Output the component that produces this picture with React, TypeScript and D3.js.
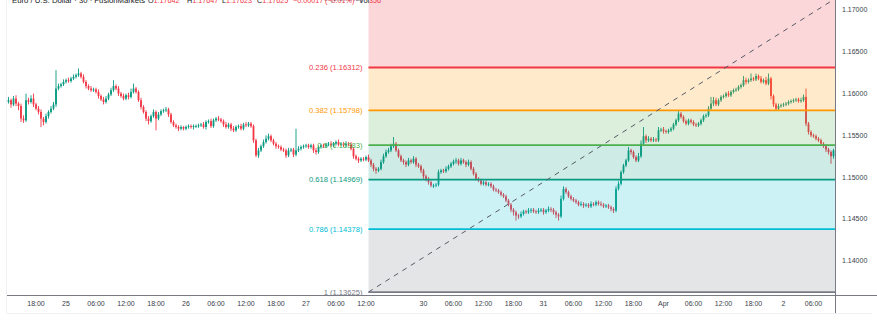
import React from "react";
import * as d3 from "d3";

const W = 877;
const H = 323;

// Candle closes in pips above 1.1400 (30-minute bars, 24 Mar 12:00 → 2 Apr 09:30)
const BASE = 1.14;
const firstOpen = 188;
const closes = [
  190,192,187,194,188,185,170,168,192,190,194,187,182,178,170,166,173,178,182,187,
  206,209,211,214,216,215,218,220,222,224,220,214,209,206,204,205,202,197,193,190,
  194,199,204,209,206,200,197,194,198,196,202,206,202,192,184,178,170,167,173,178,
  170,175,179,180,181,175,166,162,160,158,160,158,160,161,160,161,161,162,163,160,
  166,167,161,168,170,169,167,163,160,163,158,156,160,161,158,163,162,164,161,144,
  126,132,137,142,146,149,144,140,137,136,133,132,126,132,133,127,132,134,136,137,
  138,136,138,132,130,136,138,137,139,140,138,140,142,139,140,138,140,139,134,125,
  122,120,122,121,124,120,115,110,108,110,118,125,130,132,137,140,132,125,120,118,
  115,120,118,122,115,113,108,101,98,94,90,90,91,106,108,107,110,113,116,119,
  120,116,120,118,115,118,110,104,98,96,92,94,91,92,89,85,84,82,79,77,
  72,67,61,58,54,53,56,59,58,60,61,59,58,60,61,58,60,62,61,58,
  55,53,74,86,82,77,74,72,70,67,68,66,67,65,68,67,70,68,67,65,
  66,64,62,60,86,92,106,114,120,132,130,124,120,125,140,149,144,146,144,145,
  144,156,157,155,154,156,158,163,168,176,172,167,164,168,166,163,162,164,168,173,
  174,182,188,192,187,192,196,197,200,198,202,204,205,208,210,216,214,216,218,217,
  221,218,214,216,212,218,197,187,182,185,186,187,188,190,191,192,193,191,192,196,
  164,154,150,149,146,144,140,137,133,130,125,132,
];
const upWicks = [
  3,4,2,3,4,2,3,4,8,3,4,6,2,3,3,2,3,2,3,3,
  22,3,2,3,2,3,2,3,2,6,2,3,2,2,3,2,2,3,2,3,
  3,2,3,7,2,3,2,3,2,3,4,6,2,2,3,2,2,3,2,3,
  2,3,2,2,3,2,2,2,2,2,2,1,2,2,2,2,2,2,2,3,
  2,2,3,2,2,3,2,2,3,2,2,3,2,2,3,2,3,2,2,2,
  2,3,2,3,4,3,2,2,2,2,2,2,2,3,2,2,26,3,2,2,
  2,2,2,2,3,2,2,2,2,2,3,2,2,3,2,2,3,2,3,2,
  2,2,2,2,2,3,2,2,2,2,3,3,3,3,3,8,2,2,2,2,
  2,3,2,3,2,2,2,2,2,2,2,2,2,3,2,2,3,2,2,2,
  3,2,3,2,2,3,2,2,2,2,2,2,2,2,2,2,2,2,2,2,
  2,2,2,2,2,2,3,2,2,3,2,2,2,3,2,2,2,3,2,2,
  2,2,4,3,2,2,2,2,2,2,3,2,2,2,3,2,2,2,3,2,
  2,2,2,2,3,3,2,2,2,4,2,2,2,4,4,11,2,3,2,3,
  2,4,2,3,2,2,2,2,2,3,2,2,2,2,2,2,2,2,2,2,
  2,3,8,4,3,2,2,2,2,3,2,2,2,2,2,5,3,2,6,2,
  3,2,3,2,4,6,2,2,2,3,2,2,2,2,2,2,2,2,3,3,
  10,2,2,2,2,2,2,2,2,2,2,2,
];
const downWicks = [
  3,2,4,2,3,5,4,3,2,3,2,3,2,3,10,4,2,3,2,2,
  3,2,2,2,2,2,2,2,2,2,2,2,3,2,2,2,2,3,2,3,
  2,2,2,2,2,3,2,2,2,3,2,2,2,2,3,2,3,4,2,2,
  14,2,2,2,2,3,2,2,2,3,2,2,2,2,2,3,2,2,2,2,
  3,2,2,2,2,2,2,3,2,2,3,2,2,2,2,2,2,2,2,3,
  2,3,2,2,2,2,2,2,3,2,2,2,3,2,2,3,2,2,2,2,
  2,2,2,3,3,2,2,2,2,2,2,2,2,2,2,2,2,2,2,3,
  2,3,2,2,2,2,3,3,4,2,2,2,2,2,2,2,2,2,2,3,
  3,2,2,2,3,2,3,3,3,3,2,3,2,2,2,2,2,2,2,2,
  3,2,2,2,3,2,2,2,2,2,2,2,2,2,2,2,2,2,2,2,
  2,2,3,4,6,3,2,2,2,2,3,2,2,2,2,3,2,2,3,3,
  4,5,2,2,2,2,2,2,2,2,2,3,2,2,2,2,2,2,2,2,
  2,2,3,3,2,2,2,2,2,2,3,2,2,2,2,2,3,2,2,2,
  2,2,2,3,2,2,2,2,2,2,2,2,2,2,2,2,2,2,2,2,
  2,2,2,3,2,2,2,2,2,2,2,2,2,2,2,2,3,2,2,2,
  2,2,2,2,2,2,4,3,2,2,2,2,2,2,2,2,2,2,2,2,
  3,3,2,2,2,2,2,2,3,3,9,3,
];

const timeTickIdx = [12,24,36,48,60,72,84,96,108,120,132,144,167,179,191,203,215,227,239,251,263,275,287,299,311,323];
const timeTickLabels = ["18:00","25","06:00","12:00","18:00","26","06:00","12:00","18:00","27","06:00","12:00","30","06:00","12:00","18:00","31","06:00","12:00","18:00","Apr","06:00","12:00","18:00","2","06:00"];
const priceTicks = [1.17, 1.165, 1.16, 1.155, 1.15, 1.145, 1.14];

const fibRatios = ["0", "0.236", "0.382", "0.5", "0.618", "0.786", "1"];
const fibPrices = [1.17142, 1.16312, 1.15798, 1.15383, 1.14969, 1.14378, 1.13625];
const fibColors = ["#787b86", "#f23645", "#ff9800", "#4caf50", "#089981", "#00bcd4", "#787b86"];
const fibStartIdx = 145;
const fibEndIdx = 332;

const UP = "#089981";
const DOWN = "#f23645";
const FONT = "'Liberation Sans', Arial, sans-serif";

export default function App() {
  const plotL = 7, plotR = 835, plotT = 0, plotB = 295;
  const x = d3.scaleLinear().domain([0, 1]).range([6, 8.5]);
  const y = d3.scaleLinear().domain([1.14, 1.17]).range([260.7, 10]);
  const pv = (v: number) => BASE + v / 10000;

  const candles = closes.map((c, i) => {
    const o = i === 0 ? firstOpen : closes[i - 1];
    const top = Math.max(o, c), bot = Math.min(o, c);
    return {
      i, o, c,
      h: top + (upWicks[i] ?? 2),
      l: bot - (downWicks[i] ?? 2),
    };
  });

  const fx0 = x(fibStartIdx);
  const levelY = fibPrices.map((p) => y(p));
  const bw = 1.8;

  return (
    <svg width={W} height={H} style={{ position: "absolute", left: 0, top: 0, background: "#fff" }} fontFamily={FONT}>
      <defs>
        <clipPath id="plot">
          <rect x={plotL} y={plotT} width={plotR - plotL} height={plotB - plotT} />
        </clipPath>
      </defs>
      <rect x={0} y={0} width={W} height={H} fill="#fff" />
      {/* frame */}
      <line x1={6.5} x2={6.5} y1={0} y2={313} stroke="#eef0f4" />
      <line x1={6.5} x2={872} y1={313.5} y2={313.5} stroke="#eef0f4" />

      <g clipPath="url(#plot)">
        {/* candles */}
        {candles.map((d) => {
          const col = d.c >= d.o ? UP : DOWN;
          const yt = y(pv(Math.max(d.o, d.c)));
          const yb = y(pv(Math.min(d.o, d.c)));
          return (
            <g key={d.i}>
              <line x1={x(d.i)} x2={x(d.i)} y1={y(pv(d.h))} y2={y(pv(d.l))} stroke={col} strokeWidth={0.9} />
              <rect x={x(d.i) - bw / 2} y={yt} width={bw} height={Math.max(0.9, yb - yt)} fill={col} />
            </g>
          );
        })}
        {/* fib zones */}
        {fibPrices.slice(0, -1).map((p, k) => {
          const y0 = k === 0 ? 0 : levelY[k];
          const y1 = levelY[k + 1];
          return (
            <rect key={"z" + k} x={fx0} y={Math.min(y0, y1)} width={plotR - fx0} height={Math.abs(y1 - y0)}
              fill={fibColors[k + 1]} fillOpacity={0.2} />
          );
        })}
        {/* fib lines */}
        {fibPrices.map((p, k) => (
          <line key={"l" + k} x1={fx0} x2={plotR} y1={levelY[k]} y2={levelY[k]} stroke={fibColors[k]} strokeWidth={1.8} />
        ))}
        {/* trend line */}
        <line x1={x(fibStartIdx)} y1={y(fibPrices[6])} x2={x(fibEndIdx)} y2={y(fibPrices[0])}
          stroke="#555b66" strokeWidth={1} strokeDasharray="5,5" />
        {/* fib labels */}
        {fibPrices.map((p, k) => (
          <text key={"t" + k} x={fx0 - 6} y={levelY[k]} dy="0.35em" textAnchor="end" fontSize={7.6} fill={fibColors[k]}>
            {`${fibRatios[k]} (${p.toFixed(5)})`}
          </text>
        ))}
      </g>

      {/* axes */}
      <line x1={plotL} x2={W} y1={plotB + 0.5} y2={plotB + 0.5} stroke="#787b86" strokeWidth={1} />
      <line x1={plotR + 0.5} x2={plotR + 0.5} y1={0} y2={313} stroke="#787b86" strokeWidth={1} />
      {priceTicks.map((p) => (
        <text key={p} x={842} y={y(p)} dy="0.35em" fontSize={7} fill="#3a3e4a">{p.toFixed(5)}</text>
      ))}
      {timeTickIdx.map((idx, k) => (
        <text key={idx} x={x(idx)} y={304} dy="0.35em" textAnchor="middle" fontSize={7} fill="#3a3e4a">
          {timeTickLabels[k]}
        </text>
      ))}

      {/* header (cut off at top) */}
      <text y={3} fontSize={7.2} fill="#131722">
        <tspan x={12} textLength={133} lengthAdjust="spacingAndGlyphs">Euro / U.S. Dollar · 30 · FusionMarkets</tspan>
        <tspan x={148}>O</tspan><tspan fill={DOWN}>1.17642</tspan>
        <tspan x={187}>H</tspan><tspan fill={DOWN}>1.17647</tspan>
        <tspan x={222}>L</tspan><tspan fill={DOWN}>1.17623</tspan>
        <tspan x={257}>C</tspan><tspan fill={DOWN}>1.17625</tspan>
        <tspan x={293} fill={DOWN}>−0.00017</tspan>
        <tspan x={325} fill={DOWN}>(−0.01%)</tspan>
        <tspan x={359}>Vol</tspan><tspan fill={DOWN}>356</tspan>
      </text>
    </svg>
  );
}
